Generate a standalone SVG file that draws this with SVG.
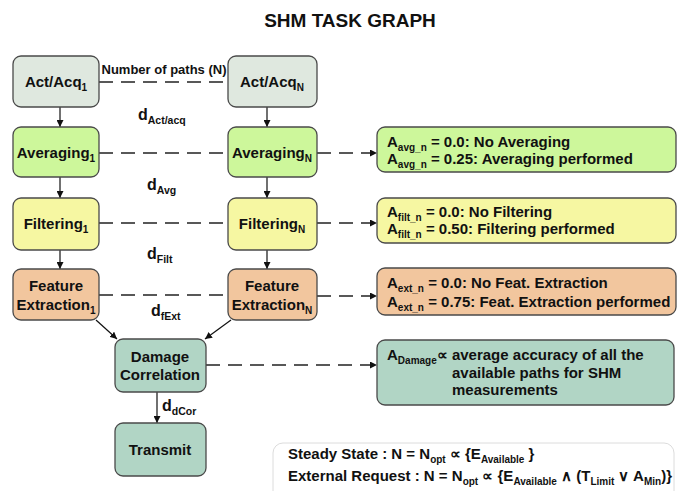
<svg xmlns="http://www.w3.org/2000/svg" width="678" height="491" viewBox="0 0 678 491">
<defs>
<marker id="ah" viewBox="0 0 10 10" refX="10" refY="5" markerWidth="7" markerHeight="7" markerUnits="userSpaceOnUse" orient="auto">
<path d="M0,0 L10,5 L0,10 z" fill="#111"/>
</marker>
</defs>
<style>
text{font-family:"Liberation Sans",Arial,sans-serif;font-weight:bold;fill:#111}
.node{stroke:#4a4a4a;stroke-width:1.3}
.n{font-size:15px;text-anchor:middle}
.info{font-size:15px}
.lbl{font-size:13px}
.d{font-size:16px}
.arr{stroke:#111;stroke-width:1.2;fill:none;marker-end:url(#ah)}
.dash{stroke:#222;stroke-width:1.3;fill:none;stroke-dasharray:14 8}
.dasha{stroke:#222;stroke-width:1.3;fill:none;stroke-dasharray:14 8;marker-end:url(#ah)}
.acq{fill:#dfe8df}.avg{fill:#cdf79b}.filt{fill:#f6f7a2}.ext{fill:#f2c69e}.dam{fill:#b1d5c5}
</style>
<rect width="678" height="491" fill="#fff"/>
<text x="350" y="27" font-size="19" text-anchor="middle">SHM TASK GRAPH</text>

<g id="connectors">
<line class="arr" x1="60" y1="107" x2="60" y2="127"/>
<line class="arr" x1="267" y1="107" x2="267" y2="127"/>
<line class="arr" x1="60" y1="177" x2="60" y2="198"/>
<line class="arr" x1="267" y1="177" x2="267" y2="198"/>
<line class="arr" x1="60" y1="250" x2="60" y2="269"/>
<line class="arr" x1="267" y1="250" x2="267" y2="269"/>
<line class="arr" x1="96" y1="320" x2="117" y2="339"/>
<line class="arr" x1="231" y1="320" x2="205" y2="339"/>
<line class="arr" x1="157" y1="392" x2="157" y2="423"/>
<line class="dash" x1="99" y1="82" x2="228" y2="82"/>
<line class="dash" x1="99" y1="153" x2="228" y2="153"/>
<line class="dash" x1="99" y1="223" x2="228" y2="223"/>
<line class="dash" x1="99" y1="295" x2="228" y2="295"/>
<path class="dasha" d="M317,153 H377"/>
<path class="dasha" d="M317,223 H377"/>
<path class="dasha" d="M317,296 H377"/>
<path class="dasha" d="M206,365 H377"/>
</g>

<text class="lbl" x="164" y="74" text-anchor="middle">Number of paths (N)</text>
<text class="d" x="138" y="120">d<tspan font-size="10.5" dy="4">Act/acq</tspan></text>
<text class="d" x="147" y="190">d<tspan font-size="10.5" dy="4">Avg</tspan></text>
<text class="d" x="147" y="259">d<tspan font-size="10.5" dy="4">Filt</tspan></text>
<text class="d" x="151" y="316">d<tspan font-size="10.5" dy="4">fExt</tspan></text>
<text class="d" x="162" y="411">d<tspan font-size="10.5" dy="4">dCor</tspan></text>

<g id="acq1"><rect class="node acq" x="13" y="56" width="86" height="51" rx="8"/><text class="n" x="56" y="87">Act/Acq<tspan font-size="10" dy="4">1</tspan></text></g>
<g id="acqN"><rect class="node acq" x="228" y="56" width="89" height="51" rx="8"/><text class="n" x="272" y="87">Act/Acq<tspan font-size="10" dy="4">N</tspan></text></g>
<g id="avg1"><rect class="node avg" x="13" y="127" width="86" height="50" rx="8"/><text class="n" x="56" y="158">Averaging<tspan font-size="10" dy="4">1</tspan></text></g>
<g id="avgN"><rect class="node avg" x="228" y="127" width="89" height="50" rx="8"/><text class="n" x="272" y="158">Averaging<tspan font-size="10" dy="4">N</tspan></text></g>
<g id="filt1"><rect class="node filt" x="13" y="198" width="86" height="52" rx="8"/><text class="n" x="56" y="229">Filtering<tspan font-size="10" dy="4">1</tspan></text></g>
<g id="filtN"><rect class="node filt" x="228" y="198" width="89" height="52" rx="8"/><text class="n" x="272" y="229">Filtering<tspan font-size="10" dy="4">N</tspan></text></g>
<g id="ext1"><rect class="node ext" x="13" y="269" width="86" height="51" rx="8"/><text class="n" x="56" y="291">Feature</text><text class="n" x="56" y="310">Extraction<tspan font-size="10" dy="4">1</tspan></text></g>
<g id="extN"><rect class="node ext" x="228" y="269" width="89" height="51" rx="8"/><text class="n" x="272" y="291">Feature</text><text class="n" x="272" y="310">Extraction<tspan font-size="10" dy="4">N</tspan></text></g>
<g id="damage"><rect class="node dam" x="115" y="339" width="91" height="53" rx="8"/><text class="n" x="160" y="362">Damage</text><text class="n" x="160" y="380">Correlation</text></g>
<g id="transmit"><rect class="node dam" x="115" y="423" width="91" height="53" rx="8"/><text class="n" x="160" y="455">Transmit</text></g>

<g id="info-avg"><rect class="node avg" x="377" y="127" width="299" height="45" rx="8"/>
<text class="info" x="387" y="147">A<tspan font-size="10" dy="4">avg_n</tspan><tspan dy="-4"> = 0.0: No Averaging</tspan></text>
<text class="info" x="387" y="164">A<tspan font-size="10" dy="4">avg_n</tspan><tspan dy="-4"> = 0.25: Averaging performed</tspan></text></g>
<g id="info-filt"><rect class="node filt" x="377" y="198" width="299" height="45" rx="8"/>
<text class="info" x="387" y="217">A<tspan font-size="10" dy="4">filt_n</tspan><tspan dy="-4"> = 0.0: No Filtering</tspan></text>
<text class="info" x="387" y="234">A<tspan font-size="10" dy="4">filt_n</tspan><tspan dy="-4"> = 0.50: Filtering performed</tspan></text></g>
<g id="info-ext"><rect class="node ext" x="377" y="268" width="299" height="47" rx="8"/>
<text class="info" x="387" y="288">A<tspan font-size="10" dy="4">ext_n</tspan><tspan dy="-4"> = 0.0: No Feat. Extraction</tspan></text>
<text class="info" x="387" y="307">A<tspan font-size="10" dy="4">ext_n</tspan><tspan dy="-4"> = 0.75: Feat. Extraction performed</tspan></text></g>
<g id="info-dam"><rect class="node dam" x="377" y="340" width="297" height="65" rx="8"/>
<text class="info" x="387" y="360">A<tspan font-size="10" dy="4">Damage</tspan><tspan dy="-4">∝ average accuracy of all the</tspan></text>
<text class="info" x="452" y="378">available paths for SHM</text>
<text class="info" x="452" y="395">measurements</text></g>

<g id="legend"><rect x="273" y="443" width="401" height="60" rx="10" fill="#fff" stroke="#dcdcdc" stroke-width="1"/>
<text class="info" x="288" y="459" font-size="14">Steady State : N = N<tspan font-size="10" dy="4">opt</tspan><tspan dy="-4"> ∝ {E</tspan><tspan font-size="10" dy="4">Available</tspan><tspan dy="-4"> }</tspan></text>
<text class="info" x="288" y="481" font-size="14">External Request : N = N<tspan font-size="10" dy="4">opt</tspan><tspan dy="-4"> ∝ {E</tspan><tspan font-size="10" dy="4">Available</tspan><tspan dy="-4"> ∧ (T</tspan><tspan font-size="10" dy="4">Limit</tspan><tspan dy="-4"> ∨ A</tspan><tspan font-size="10" dy="4">Min</tspan><tspan dy="-4">)}</tspan></text></g>
</svg>
